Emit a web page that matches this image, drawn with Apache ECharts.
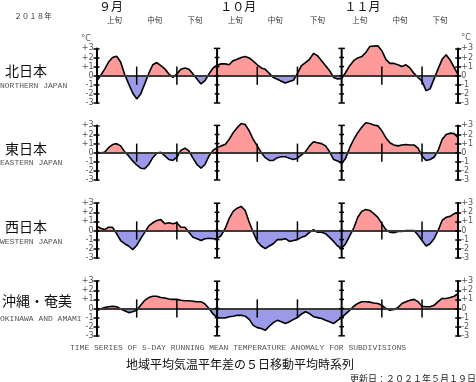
<!DOCTYPE html>
<html><head><meta charset="utf-8">
<script src="https://cdn.jsdelivr.net/npm/echarts@6/dist/echarts.min.js"></script>
<style>html,body{margin:0;padding:0;background:#fff}#c{width:476px;height:382px}</style>
</head><body><div id="c"></div>
<script>
// ---- data (day index 0 = Sep 1, 90 = Nov 30, 2018) ----
const dayCount = 91;
const regionsJa = ['北日本', '東日本', '西日本', '沖縄・奄美'];
const regionsEn = ['NORTHERN JAPAN', 'EASTERN JAPAN', 'WESTERN JAPAN', 'OKINAWA AND AMAMI'];
const north = [-0.6,0,0.7,1.5,2.0,2.15,1.5,0.15,-0.9,-1.9, -2.55,-2.0,-0.9,0.25,1.2,1.45,1.1,0.75,0.2,-0.2,
  0.2,0.7,0.85,0.7,0.2,-0.35,-0.9,-0.55,0.2,0.85, 1.15,1.3,1.3,1.2,1.65,1.8,2.0,2.1,1.95,1.6,
  1.2,0.85,0.7,0.25,-0.2,-0.4,-0.6,-0.8,-0.65,-0.5, 0.25,1.1,1.45,1.8,2.45,2.2,1.65,1.1,0.55,-0.2,
  -0.35,-0.3,0.35,1.1,1.65,1.95,2.1,2.55,3.2,3.25, 3.3,2.75,1.8,1.35,1.35,1.2,1.0,1.2,0.85,0.25,
  -0.2,-0.6,-1.65,-1.45,-0.35,0.75,1.8,2.3,1.7,0.9, 0.1];
const east = [0.05,0,0.05,0.55,0.9,1.0,0.75,0.1,-0.35,-0.9, -1.35,-1.7,-1.75,-1.3,-0.55,-0.05,0.05,-0.35,-0.75,-0.85,
  -0.5,0.25,0.5,0.2,-0.6,-1.3,-1.7,-1.3,-0.35,0.25, 0.55,0.75,0.9,1.45,2.2,2.75,3.2,3.1,2.4,1.45,
  0.75,0,-0.55,-0.85,-0.85,-0.55,-0.45,-0.45,-0.6,-0.75, -0.6,-0.25,0.1,0.75,1.2,1.1,1.0,0.75,0.1,-0.75,
  -0.9,-1.2,-0.6,0.55,1.45,2.2,2.8,3.3,3.2,3.05, 2.95,2.4,1.65,1.1,0.85,0.75,0.85,0.9,0.85,0.85,
  0.5,-0.35,-0.85,-0.75,-0.5,0.25,1.45,2.0,2.15,2.1, 1.65];
const west = [0.5,0.25,0.1,0.35,0.35,-0.35,-1.1,-1.45,-1.7,-2.1, -1.65,-0.9,-0.2,0.5,0.85,1.1,1.2,0.75,0.85,0.75,
  0.85,0.35,0.35,-0.2,-0.75,-0.9,-1.1,-0.9,-0.85,-0.9, -0.9,-0.55,0.2,1.3,2.1,2.45,2.65,2.2,0.9,-0.2,
  -1.2,-1.7,-2.0,-1.7,-1.45,-1.0,-1.0,-0.9,-1.2,-1.1, -1.0,-0.75,-0.6,-0.2,0.1,-0.2,-0.2,-0.35,-0.75,-1.2,
  -1.7,-1.95,-1.45,-0.6,0.25,1.45,2.1,2.3,2.2,1.85, 1.45,0.75,0.1,-0.2,-0.25,-0.1,-0.1,0,0,0,
  -0.5,-1.1,-1.7,-1.45,-0.9,0,1.1,1.45,1.55,1.85, 2.0];
const okinawa = [-0.25,-0.05,0.1,0.2,0.25,0.2,-0.05,-0.25,-0.45,-0.35, -0.2,0.35,0.9,1.2,1.35,1.35,1.2,1.15,1.05,1.0,
  1.0,0.9,0.85,0.85,0.8,0.75,0.75,0.5,0,-0.6, -1.0,-1.05,-1.05,-0.9,-0.85,-0.75,-0.75,-0.85,-1.2,-1.85,
  -2.1,-2.2,-2.4,-1.95,-1.55,-1.3,-1.45,-1.65,-1.45,-1.2, -1.0,-0.6,-0.35,-0.55,-0.9,-1.0,-1.1,-1.3,-1.45,-1.65,
  -1.3,-1.0,-0.6,-0.2,0.25,0.55,0.75,0.75,0.7,0.6, 0.55,0.35,0,-0.2,-0.1,0.1,0.55,0.75,0.9,1.0,
  0.75,0.25,0.2,0.2,0.35,0.75,1.1,1.1,1.2,1.35, 1.65];
const yTicks = [-3, -2, -1, 0, 1, 2, 3];
const monthStartIdx = [30, 61];           // Oct 1, Nov 1 (inner month lines)
const monthLabels = ['９月', '１０月', '１１月'];
const monthLabelIdx = [3.6, 35.3, 66.2];
const dekadLabels = ['上旬', '中旬', '下旬', '上旬', '中旬', '下旬', '上旬', '中旬', '下旬'];
const dekadCenterIdx = [4.5, 14.5, 24.5, 34.5, 44.5, 55, 65.5, 75.5, 85.5];
const dekadBoundaryIdx = [10, 20, 40, 50, 71, 81];
const yearLabel = '２０１８年';
const bottomEn = 'TIME SERIES OF 5-DAY RUNNING MEAN TEMPERATURE ANOMALY FOR SUBDIVISIONS';
const bottomJa = '地域平均気温平年差の５日移動平均時系列';
const updated = '更新日：２０２１年５月１９日';

// ---- layout / style ----
const allSeries = [north, east, west, okinawa];
const GL = 96.5, GR = 17.5;
const zeroY = [75.7, 152.7, 230.5, 308.5];
const halfH = 27.3;
const PINK = '#ff9a9a', BLUE = '#9a9ae8';
const JP = '"Noto Sans CJK JP"', MONO = '"Liberation Mono"', SANS = '"DejaVu Sans"';
const fmt = v => (v > 0 ? '+' + v : String(v));

const chart = echarts.init(document.getElementById('c'), null, {renderer: 'canvas'});
const grids = [], xAxes = [], yAxes = [], dataSeries = [], markSeries = [];
allSeries.forEach((vals, g) => {
  grids.push({left: GL, right: GR, top: zeroY[g] - halfH, height: 2 * halfH});
  xAxes.push({gridIndex: g, type: 'value', min: 0, max: dayCount - 1, z: 3,
    axisLine: {show: true, onZero: true, lineStyle: {color: '#3a3a3a', width: 2}},
    axisTick: {show: false}, axisLabel: {show: false}, splitLine: {show: false}});
  const base = {gridIndex: g, type: 'value', min: -3, max: 3, interval: 1, z: 4, splitLine: {show: false}};
  const line = {show: true, onZero: false, lineStyle: {color: '#000', width: 2}};
  const tick = {show: true, length: 3, lineStyle: {color: '#000', width: 1.5}};
  const lab = {show: true, formatter: fmt, fontSize: 8, color: '#555', margin: 3, fontFamily: SANS};
  const yi = yAxes.length;
  yAxes.push(Object.assign({}, base, {position: 'left', axisLine: line, axisTick: tick, axisLabel: lab}));
  yAxes.push(Object.assign({}, base, {position: 'left', axisLine: {show: false, onZero: false}, axisTick: Object.assign({}, tick, {inside: true}), axisLabel: {show: false}}));
  yAxes.push(Object.assign({}, base, {position: 'right', axisLine: line, axisTick: tick, axisLabel: lab}));
  yAxes.push(Object.assign({}, base, {position: 'right', axisLine: {show: false, onZero: false}, axisTick: Object.assign({}, tick, {inside: true}), axisLabel: {show: false}}));

  dataSeries.push({type: 'line', xAxisIndex: g, yAxisIndex: yi, data: vals.map((v, i) => [i, v]),
    showSymbol: false, symbol: 'none', silent: true, z: 2, clip: false,
    lineStyle: {color: '#000', width: 1.6}, areaStyle: {opacity: 1}});

  const seg = (pts, w) => markSeries.push({type: 'line', xAxisIndex: g, yAxisIndex: yi, data: pts,
    showSymbol: false, symbol: 'none', silent: true, z: 5, clip: false,
    lineStyle: {color: '#000', width: w}, itemStyle: {color: '#000'}});
  monthStartIdx.forEach(d => {
    seg([[d, -3], [d, 3]], 2);
    yTicks.forEach(k => {
      const w = (Math.abs(k) === 3) ? 0.8 : 0.6;
      seg([[d - w, k], [d + w, k]], 1.5);
    });
  });
  dekadBoundaryIdx.forEach(d => seg([[d, -1], [d, 1]], 1.5));
});

chart.setOption({
  animation: false,
  backgroundColor: '#fff',
  grid: grids, xAxis: xAxes, yAxis: yAxes, series: dataSeries.concat(markSeries),
  visualMap: [{type: 'piecewise', show: false, dimension: 1, seriesIndex: [0, 1, 2, 3],
    pieces: [{gt: -10, lt: 0, color: BLUE}, {gte: 0, lt: 10, color: PINK}],
    outOfRange: {color: '#999'}}]
});

const px = d => chart.convertToPixel({xAxisIndex: 0}, d);
const T = (text, x, y, font, fill, align) => ({type: 'text', x: x, y: y, silent: true,
  style: {text: text, font: font, fill: fill || '#000', align: align || 'center', textAlign: align || 'center', verticalAlign: 'middle', textVerticalAlign: 'middle'}});
const gfx = [];
monthLabels.forEach((m, i) => gfx.push(T(m, px(monthLabelIdx[i]), 6, '12px ' + JP, '#111')));
dekadLabels.forEach((m, i) => gfx.push(T(m, px(dekadCenterIdx[i]), 20, '7.5px ' + JP, '#333')));
gfx.push(T(yearLabel, 33, 16, '7.5px ' + JP, '#333'));
gfx.push(T('°C', 86, 39, '8px ' + SANS, '#555'));
gfx.push(T('°C', 466, 38, '8px ' + SANS, '#555'));
const jaY = [70.5, 148.3, 226.7, 300.7], enY = [86, 163.3, 241.7, 319];
regionsJa.forEach((r, g) => {
  gfx.push(T(r, g === 3 ? 2 : 5, jaY[g], '14px ' + JP, '#111', 'left'));
  gfx.push(T(regionsEn[g], 0, enY[g], '8px ' + MONO, '#555', 'left'));
});
gfx.push(T(bottomEn, 238, 347.7, '8px ' + MONO, '#555'));
gfx.push(T(bottomJa, 240, 364, '12px ' + JP, '#111'));
gfx.push(T(updated, 476, 378.5, '9px ' + JP, '#222', 'right'));
chart.setOption({graphic: gfx});
</script></body></html>
